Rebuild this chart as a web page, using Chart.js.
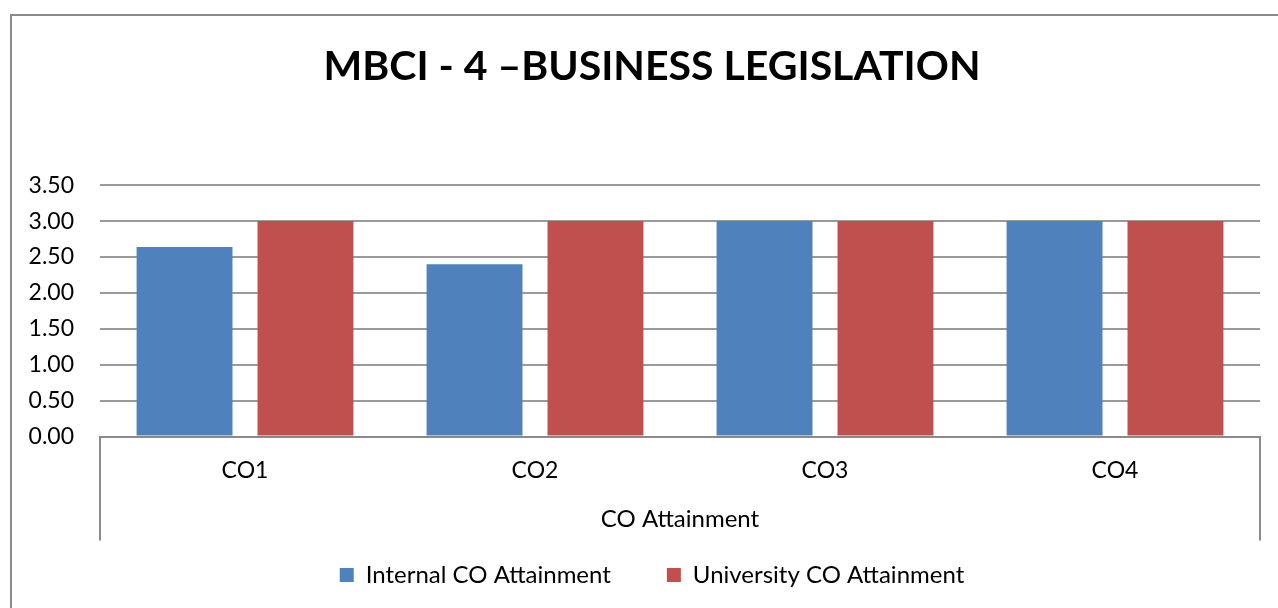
<!DOCTYPE html>
<html>
<head>
<meta charset="utf-8">
<script src="https://cdn.jsdelivr.net/npm/chart.js@4.4.1/dist/chart.umd.min.js"></script>
<style>
  html, body { margin: 0; padding: 0; background: #ffffff; }
  #wrap { position: relative; width: 1278px; height: 608px; }
</style>
</head>
<body>
<div id="wrap"><canvas id="c" width="1278" height="608"></canvas></div>
<script>
const chartTitle = 'MBCI - 4 \u2013BUSINESS LEGISLATION';
const categories = ['CO1', 'CO2', 'CO3', 'CO4'];
const axisTitle = 'CO Attainment';
const seriesNames = ['Internal CO Attainment', 'University CO Attainment'];
const internalValues = [2.64, 2.40, 3.00, 3.00];
const universityValues = [3.00, 3.00, 3.00, 3.00];
const yTicks = [0, 0.5, 1.0, 1.5, 2.0, 2.5, 3.0, 3.5];

const FONT = 'Lato, "Open Sans", "DejaVu Sans", sans-serif';

const framePlugin = {
  id: 'frame',
  afterLayout(chart) {
    // Title and legend are centred over the whole frame, not only the plot
    const shift = 44;
    if (chart.titleBlock) {
      chart.titleBlock.width = chart.titleBlock.right - shift;
      chart.titleBlock.left = shift;
    }
    if (chart.legend) {
      chart.legend.width = chart.legend.right - shift;
      chart.legend.left = shift;
    }
  },
  beforeDraw(chart) {
    const ctx = chart.ctx;
    ctx.save();
    ctx.fillStyle = '#ffffff';
    ctx.fillRect(0, 0, chart.width, chart.height);
    ctx.strokeStyle = '#8a8a8a';
    ctx.lineWidth = 2;
    ctx.beginPath();
    ctx.moveTo(11, chart.height + 5);
    ctx.lineTo(11, 15);
    ctx.lineTo(chart.width + 5, 15);
    ctx.stroke();
    ctx.restore();
  },
  afterDraw(chart) {
    const ctx = chart.ctx;
    const a = chart.chartArea;
    ctx.save();
    ctx.strokeStyle = '#8a8a8a';
    ctx.lineWidth = 2;
    ctx.beginPath();
    ctx.moveTo(a.left, a.bottom);
    ctx.lineTo(a.left, a.bottom + 104);
    ctx.moveTo(a.right, a.bottom);
    ctx.lineTo(a.right, a.bottom + 104);
    ctx.stroke();
    ctx.restore();
  }
};

new Chart(document.getElementById('c'), {
  type: 'bar',
  data: {
    labels: categories,
    datasets: [
      { label: seriesNames[0], data: internalValues, backgroundColor: '#4F81BD',
        categoryPercentage: 0.834, barPercentage: 0.793 },
      { label: seriesNames[1], data: universityValues, backgroundColor: '#C0504D',
        categoryPercentage: 0.834, barPercentage: 0.793 }
    ]
  },
  options: {
    responsive: false,
    animation: false,
    events: [],
    layout: { padding: { left: 0, right: 18, top: 0, bottom: 11 } },
    plugins: {
      title: {
        display: true,
        text: chartTitle,
        color: '#000000',
        font: { family: FONT, size: 41, weight: 'bold' },
        padding: { top: 42, bottom: 94 }
      },
      legend: {
        position: 'bottom',
        labels: {
          color: '#000000',
          font: { family: FONT, size: 24 },
          boxWidth: 14,
          boxHeight: 14,
          padding: 56
        }
      },
      tooltip: { enabled: false }
    },
    scales: {
      x: {
        grid: { display: false },
        border: { display: true, color: '#8a8a8a', width: 2 },
        ticks: { color: '#000000', font: { family: FONT, size: 23 }, padding: 12 },
        title: {
          display: true, text: axisTitle, color: '#000000',
          font: { family: FONT, size: 24 },
          padding: { top: 9, bottom: -27 }
        }
      },
      y: {
        min: 0, max: 3.5,
        afterFit(scale) { scale.width = 100; },
        afterBuildTicks(scale) { scale.ticks = yTicks.map(v => ({ value: v })); },
        grid: { color: '#9a9a9a', lineWidth: 2, drawTicks: false },
        border: { display: false },
        ticks: {
          color: '#000000', font: { family: FONT, size: 23 }, padding: 26,
          callback: v => Number(v).toFixed(2)
        }
      }
    }
  },
  plugins: [framePlugin]
});
</script>
</body>
</html>
